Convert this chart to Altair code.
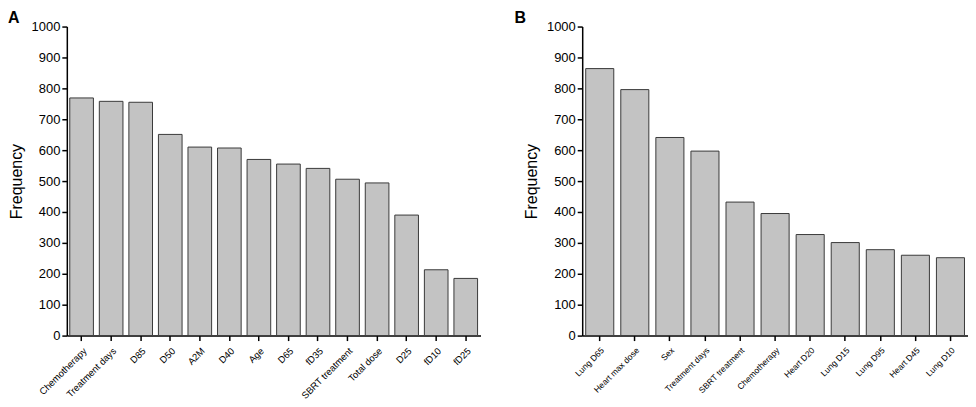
import altair as alt
import pandas as pd

# Panel A
a_cats = ["Chemotherapy", "Treatment days", "D85", "D50", "A2M", "D40", "Age",
          "D65", "fD35", "SBRT treatment", "Total dose", "D25", "fD10", "fD25"]
a_vals = [769, 758, 755, 651, 610, 607, 570, 555, 541, 506, 494, 390, 213, 185]

# Panel B
b_cats = ["Lung D65", "Heart max dose", "Sex", "Treatment days", "SBRT treatment",
          "Chemotherapy", "Heart D20", "Lung D15", "Lung D95", "Heart D45", "Lung D10"]
b_vals = [864, 796, 641, 597, 432, 395, 327, 301, 278, 260, 252]

y_ticks = list(range(0, 1001, 100))

FONT = "Liberation Sans"


def panel(cats, vals, letter, w, label_size, letter_dx):
    df = pd.DataFrame({"cat": cats, "val": vals})
    bars = alt.Chart(df).mark_bar(
        fill="#c3c3c3", stroke="#3a3a3a", strokeWidth=1
    ).encode(
        x=alt.X("cat:N", sort=cats, title=None,
                scale=alt.Scale(paddingInner=0.2, paddingOuter=0.1),
                axis=alt.Axis(labelAngle=-45, labelFontSize=label_size,
                              labelFont=FONT, labelColor="black",
                              tickColor="black", tickSize=5, tickWidth=1.5,
                              domainColor="black", domainWidth=1.5,
                              labelPadding=5)),
        y=alt.Y("val:Q", title="Frequency",
                scale=alt.Scale(domain=[0, 1000], nice=False),
                axis=alt.Axis(values=y_ticks, format="d", labelFontSize=13,
                              labelFont=FONT, labelColor="black",
                              tickColor="black", tickSize=5, tickWidth=1.5,
                              domainColor="black", domainWidth=1.5,
                              grid=False, labelPadding=2, titleFont=FONT,
                              titleFontSize=16, titleFontWeight="normal",
                              titleColor="black", titlePadding=7)),
    )
    txt = alt.Chart(pd.DataFrame({"t": [letter]})).mark_text(
        align="left", baseline="top", fontSize=16, fontWeight="bold",
        font=FONT, color="black"
    ).encode(text="t:N", x=alt.value(letter_dx), y=alt.value(-17))
    return alt.layer(bars, txt).properties(width=w, height=310)


chart = alt.hconcat(
    panel(a_cats, a_vals, "A", 415, 9.5, -59),
    panel(b_cats, b_vals, "B", 387, 8.5, -68),
    spacing=34,
).properties(
    padding={"left": 0, "top": 1, "right": 0, "bottom": 0}
).configure_view(stroke=None)

chart.save("out.html", embed_options={"renderer": "svg", "actions": False})
